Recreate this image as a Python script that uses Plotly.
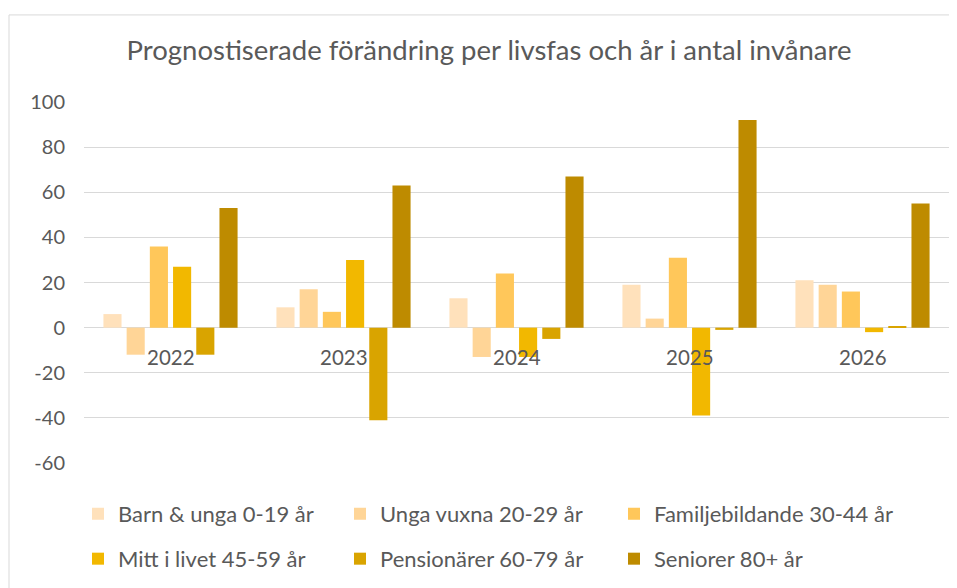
import plotly.graph_objects as go

years = ["2022", "2023", "2024", "2025", "2026"]
series_names = [
    "Barn & unga 0-19 år",
    "Unga vuxna 20-29 år",
    "Familjebildande 30-44 år",
    "Mitt i livet 45-59 år",
    "Pensionärer 60-79 år",
    "Seniorer 80+ år",
]
barn_unga = [6, 9, 13, 19, 21]
unga_vuxna = [-12, 17, -13, 4, 19]
familjebildande = [36, 7, 24, 31, 16]
mitt_i_livet = [27, 30, -13, -39, -2]
pensionarer = [-12, -41, -5, -1, 0.3]
seniorer = [53, 63, 67, 92, 55]
y_ticks = [-60, -40, -20, 0, 20, 40, 60, 80, 100]

values = [barn_unga, unga_vuxna, familjebildande, mitt_i_livet, pensionarer, seniorer]
colors = ["#FFE1BB", "#FFD597", "#FFC75A", "#F2B800", "#D9A400", "#BE8B00"]

FONT = "Lato, Open Sans, sans-serif"
GREY = "#595959"

OFF = 8  # page body margin
W, H = 957 - OFF, 588 - OFF
L, R, T, B = 84 - OFF, 8, 102 - OFF, 588 - 471
pw, ph = W - L - R, H - T - B

def px_x(x):
    return (x - OFF - L) / pw

def px_y(y):
    return (H - B - (y - OFF)) / ph

legend_cols = [78, 340, 614]
legend_rows = [523, 569]

fig = go.Figure()
legend_layout = {}
for i, (name, vals, col) in enumerate(zip(series_names, values, colors)):
    key = "legend" if i == 0 else f"legend{i + 1}"
    fig.add_trace(go.Bar(
        x=years, y=vals, name=name,
        marker=dict(color=col, line=dict(width=0)),
        legend=key, showlegend=True,
    ))
    legend_layout[key] = dict(
        orientation="h", x=px_x(legend_cols[i % 3]), y=px_y(legend_rows[i // 3]),
        xanchor="left", yanchor="middle", visible=True,
        font=dict(family=FONT, size=22, color=GREY), bgcolor="rgba(0,0,0,0)",
    )

# category labels drawn next to the zero line (category axis index positions)
annotations = [
    dict(x=i, y=0, xref="x", yref="y", text=yr, showarrow=False,
         yshift=-29, font=dict(family=FONT, size=20.5, color=GREY))
    for i, yr in enumerate(years)
]

fig.update_layout(
    width=W, height=H,
    margin=dict(l=L, r=R, t=T, b=B),
    paper_bgcolor="white", plot_bgcolor="white",
    showlegend=True,
    barmode="group", bargap=0.195, bargroupgap=0.22,
    title=dict(
        text="Prognostiserade förändring per livsfas och år i antal invånare",
        x=px_x(489), xref="paper", xanchor="center",
        y=1 - (50 - OFF) / H, yref="container", yanchor="middle",
        font=dict(family=FONT, size=27.5, color=GREY),
    ),
    font=dict(family=FONT, size=20, color=GREY),
    xaxis=dict(type="category", categoryorder="array", categoryarray=years,
               range=[-0.5, len(years) - 0.5], autorange=False,
               showticklabels=False, showgrid=False, zeroline=False, showline=False),
    yaxis=dict(
        range=[-60, 100], tickvals=y_ticks, ticktext=[str(v) for v in y_ticks],
        showgrid=True, gridcolor="#D9D9D9", gridwidth=1, zeroline=True,
        zerolinecolor="#D9D9D9", zerolinewidth=1, showline=False,
        tickfont=dict(family=FONT, size=20, color=GREY), ticklabelstandoff=18,
    ),
    annotations=annotations,
    shapes=[dict(type="rect", xref="paper", yref="paper",
                 x0=px_x(9), x1=px_x(1100), y0=px_y(800), y1=px_y(13),
                 line=dict(color="#D9D9D9", width=1), layer="below")],
    **legend_layout,
)

fig.write_html("out.html")
